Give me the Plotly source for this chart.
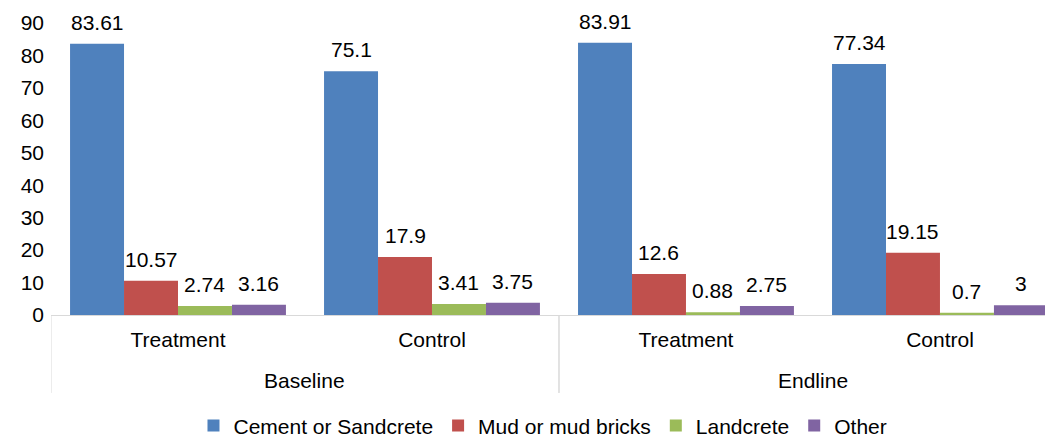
import plotly.graph_objects as go

# -----------------------------
# Data
# -----------------------------
rounds = ["Baseline", "Baseline", "Endline", "Endline"]
arms = ["Treatment", "Control", "Treatment", "Control"]

cement = [83.61, 75.1, 83.91, 77.34]
mud = [10.57, 17.9, 12.6, 19.15]
landcrete = [2.74, 3.41, 0.88, 0.7]
other = [3.16, 3.75, 2.75, 3]

series_names = ["Cement or Sandcrete", "Mud or mud bricks", "Landcrete", "Other"]
series_values = [cement, mud, landcrete, other]
colors = ["#4F81BD", "#C0504D", "#9BBB59", "#8064A2"]

font_family = "Liberation Sans, Arial, sans-serif"
font_size = 21
bargap = 0.15

# one category per round/arm pair
keys = [r + " " + a for r, a in zip(rounds, arms)]

fig = go.Figure()
for name, vals, color in zip(series_names, series_values, colors):
    fig.add_trace(
        go.Bar(
            x=keys,
            y=vals,
            name=name,
            marker_color=color,
            marker_line_width=0,
            cliponaxis=False,
        )
    )

# -----------------------------
# Value labels above each bar
# -----------------------------
n = len(series_values)
bar_w = (1 - bargap) / n
annotations = []
for i, vals in enumerate(series_values):
    for j, v in enumerate(vals):
        annotations.append(
            dict(
                x=j + (i - (n - 1) / 2) * bar_w,
                y=v,
                xref="x",
                yref="y",
                text=str(v),
                showarrow=False,
                yanchor="bottom",
                yshift=8,
                font=dict(size=font_size, color="#000000"),
            )
        )

# -----------------------------
# Outer (round) labels and dividers
# -----------------------------
groups = []
for j, r in enumerate(rounds):
    if not groups or groups[-1][0] != r:
        groups.append([r, j, j])
    else:
        groups[-1][2] = j

shapes = []
for r, first, last in groups:
    annotations.append(
        dict(
            x=(first + last) / 2,
            y=-0.226,
            xref="x",
            yref="paper",
            text=r,
            showarrow=False,
            yanchor="middle",
            font=dict(size=font_size, color="#000000"),
        )
    )
    for edge in (first - 0.5, last + 0.5):
        shapes.append(
            dict(
                type="line",
                xref="x",
                yref="paper",
                x0=edge,
                x1=edge,
                y0=0,
                y1=-0.267,
                line=dict(color="#D9D9D9", width=1),
            )
        )

# page body adds an 8px offset, so the figure is sized to fill what remains
fig.update_layout(
    width=1045,
    height=429,
    barmode="group",
    bargap=bargap,
    bargroupgap=0,
    plot_bgcolor="white",
    paper_bgcolor="white",
    font=dict(family=font_family, size=font_size, color="#000000"),
    margin=dict(l=43, r=0, t=15, b=122, autoexpand=False),
    showlegend=True,
    legend=dict(
        orientation="h",
        x=0.491,
        xanchor="center",
        y=-0.38,
        yanchor="middle",
        font=dict(size=font_size),
        itemwidth=30,
        traceorder="normal",
    ),
    annotations=annotations,
    shapes=shapes,
)

fig.update_yaxes(
    range=[0, 90],
    dtick=10,
    showgrid=False,
    zeroline=False,
    showline=False,
    ticks="",
    ticklabelstandoff=6,
    automargin=False,
    tickfont=dict(size=font_size),
)

fig.update_xaxes(
    type="category",
    range=[-0.5, 3.445],
    tickvals=keys,
    ticktext=arms,
    showline=True,
    linecolor="#D9D9D9",
    linewidth=1,
    showgrid=False,
    ticks="",
    ticklabelstandoff=6,
    automargin=False,
    tickfont=dict(size=font_size),
)

fig.write_html("out.html")
